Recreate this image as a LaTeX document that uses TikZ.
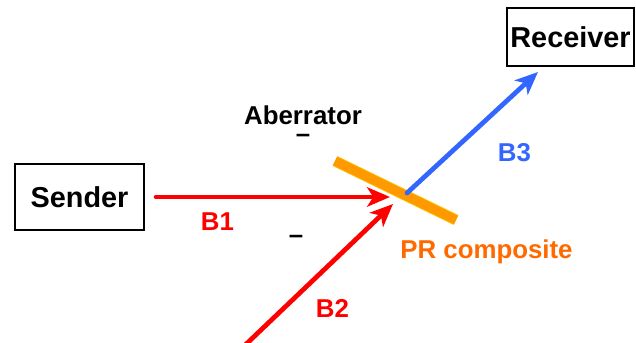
\documentclass[tikz,border=0pt]{standalone}
\usepackage{fontspec}
\setmainfont{Liberation Sans}
\usetikzlibrary{arrows.meta}

\definecolor{beamred}{HTML}{FF0000}
\definecolor{beamblue}{HTML}{3366FF}
\definecolor{barorange}{HTML}{FF9900}
\definecolor{barrim}{HTML}{FFC000}
\definecolor{prorange}{HTML}{FF6A00}

\begin{document}
\begin{tikzpicture}[
  x=0.02cm, y=-0.02cm,
  box/.style   = {draw, line width=1.2pt, inner sep=0pt,
                  font=\fontsize{16.4}{19}\selectfont\bfseries},
  lbl/.style   = {inner sep=0pt, font=\fontsize{14.7}{17}\selectfont\bfseries},
  dashmark/.style = {lbl, text height=0.35em, text depth=0pt},
  beam/.style  = {line width=2.7pt, line cap=round,
                  -{Stealth[length=13pt, width=11pt, inset=3.5pt]}},
]
\useasboundingbox (0,0) rectangle (636,342);

% ---- sender and receiver ----------------------------------------------------
\node[box, minimum width=2.58cm, minimum height=1.32cm] (sender)   at (79.5,197) {Sender};
\node[box, minimum width=2.54cm, minimum height=1.16cm] (receiver) at (570.5,37) {Receiver};

% ---- the PR composite plate -------------------------------------------------
\coordinate (barL) at (335,161);
\coordinate (barR) at (456,220);
\draw[barrim, line width=6.2pt]    (barL) -- (barR);
\draw[barorange, line width=5.2pt] (barL) -- (barR);

% ---- beams ------------------------------------------------------------------
\coordinate (hit1) at (390,197);
\coordinate (src2) at (240,350);
\coordinate (hit2) at (393,204);
\coordinate (out)  at (407,193);
\coordinate (tip3) at (538,72);

\draw[beam, beamred, shorten <=0.22cm] (sender.east) -- (hit1);
\draw[beam, beamred]                   (src2) -- (hit2);
\draw[beam, beamblue]                  (out) -- (tip3);

% ---- labels -----------------------------------------------------------------
\node[lbl]                  (aberrator) at (303,115)   {Aberrator};
\node[dashmark, anchor=base] (dashA)    at (303,142)   {–};
\node[dashmark, anchor=base] (dashB)    at (296,243)   {–};
\node[lbl, text=beamred]    (b1)        at (217.5,222) {B1};
\node[lbl, text=beamred]    (b2)        at (332.5,308) {B2};
\node[lbl, text=beamblue]   (b3)        at (514.5,152.5) {B3};
\node[lbl, text=prorange, anchor=base] (pr) at (486.5,258) {PR composite};

\end{tikzpicture}
\end{document}
